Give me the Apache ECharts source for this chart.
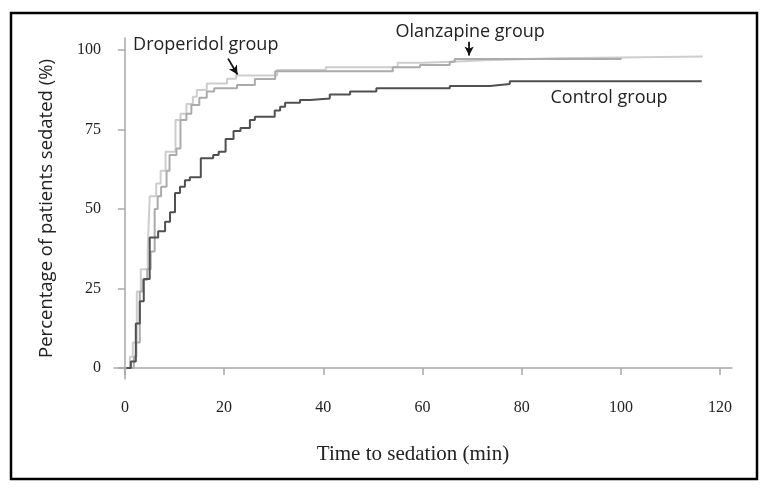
<!DOCTYPE html>
<html>
<head>
<meta charset="utf-8">
<script src="https://cdn.jsdelivr.net/npm/echarts@6/dist/echarts.min.js"></script>
<style>html,body{margin:0;padding:0;background:#fff;}#c{width:768px;height:488px;}</style>
</head>
<body>
<div id="c"></div>
<script>
// Time (min), cumulative percentage sedated (step curves)
var controlData = [[0.3,0],[1.2,2],[2.2,14],[3.0,21],[3.8,28],[5.0,41],[6.7,43],[8.1,46],[9.1,49],[10.1,55],[11.1,57],[12.1,59],[13.1,60],[15.3,66],[17.8,67],[18.9,68],[20.3,72],[21.9,74.5],[23.3,75.5],[25.2,78],[26.2,79],[30.2,81],[31.3,82.2],[32.3,83.4],[35.3,84.3],[37.3,84.8],[41.3,86],[45.4,87],[50.7,88],[65.5,88.7],[73.6,89.3],[77.6,90.2],[116.3,90.2]];
var droperidolData = [[0.3,0],[1.0,3.5],[1.6,8],[2.4,24],[3.2,31],[4.6,37],[5.0,54],[6.3,58],[7.2,62],[8.2,68],[10.2,78],[11.2,80],[12.4,83],[13.7,85.3],[14.5,87.4],[16.5,89.5],[20.6,91],[22.4,92],[30.7,93.7],[40.5,94.6],[55,96],[60,96.3],[66,96.8],[72.5,97.4],[87,98],[116.5,98]];
var olanzapineData = [[0.3,0],[1.8,3.5],[2.3,8],[3.0,24],[3.6,27.7],[4.5,31],[5.2,36.6],[6.0,50],[6.6,54],[7.3,57],[8.4,62],[9.0,67],[10.4,69],[11.2,78],[12.4,80],[13.4,82.7],[15.0,85],[16.5,87],[18.0,88],[22.6,89],[26.2,90.9],[30.3,93.3],[54,94.6],[59.5,95.3],[65.5,96.3],[66.5,97.2],[100,97.5]];
var xTicks = [0,20,40,60,80,100,120];
var yTicks = [0,25,50,75,100];
var groupNames = ['Control group','Droperidol group','Olanzapine group'];
// annotation anchors in data units: [label centre], [arrow start], [arrow end]
var labelAt = {control: [97.6, 84.9], droperidol: [16.3, 101.6], olanzapine: [69.6, 105.8]};

var chart = echarts.init(document.getElementById('c'));
var serif = 'Liberation Serif';
var sans = 'Open Sans';
var axisGray = '#a8a8a8';

function arrow(from, to) {
  return {
    silent: true,
    symbol: ['none', 'arrow'],
    symbolSize: [7, 9],
    label: {show: false},
    lineStyle: {color: '#111', width: 1.8, type: 'solid'},
    data: [[{coord: from}, {coord: to}]]
  };
}

chart.setOption({
  animation: false,
  backgroundColor: '#fff',
  grid: {left: 114, right: 36, top: 38, bottom: 109, containLabel: false},
  xAxis: {
    type: 'value', min: -2.2, max: 122.4,
    name: 'Time to sedation (min)', nameLocation: 'middle', nameGap: 65,
    nameTextStyle: {fontFamily: serif, fontSize: 21, color: '#222', padding: [0, 20, 0, 0]},
    axisLine: {show: true, lineStyle: {color: axisGray, width: 1.5}},
    axisTick: {show: true, length: 7, lineStyle: {color: axisGray, width: 1.5}, customValues: xTicks},
    axisLabel: {fontFamily: serif, fontSize: 16, color: '#222', margin: 21, customValues: xTicks},
    splitLine: {show: false}
  },
  yAxis: {
    type: 'value', min: -3.5, max: 103.8,
    name: 'Percentage of patients sedated (%)', nameLocation: 'middle', nameGap: 58, nameRotate: 90,
    nameTextStyle: {fontFamily: sans, fontSize: 18.5, color: '#222'},
    axisLine: {show: true, lineStyle: {color: axisGray, width: 1.5}},
    axisTick: {show: true, length: 7, lineStyle: {color: axisGray, width: 1.5}, customValues: yTicks},
    axisLabel: {fontFamily: serif, fontSize: 16, color: '#222', margin: 13, customValues: yTicks},
    splitLine: {show: false}
  },
  series: [
    {
      name: groupNames[1], type: 'line', step: 'end', data: droperidolData, showSymbol: false, clip: false,
      lineStyle: {color: '#cdcdcd', width: 2}, z: 2,
      markLine: arrow([20.8, 97.3], [22.7, 92.3])
    },
    {
      name: groupNames[2], type: 'line', step: 'end', data: olanzapineData, showSymbol: false, clip: false,
      lineStyle: {color: '#ababab', width: 2}, z: 3,
      markLine: arrow([69.4, 102.6], [69.4, 98.3])
    },
    {
      name: groupNames[0], type: 'line', step: 'end', data: controlData, showSymbol: false, clip: false,
      lineStyle: {color: '#505050', width: 2}, z: 4
    }
  ]
});

function txt(name, coord) {
  var p = chart.convertToPixel({gridIndex: 0}, coord);
  return {
    type: 'text', x: p[0], y: p[1], silent: true, z: 50,
    style: {text: name, fill: '#222', font: '18px "Open Sans"', textAlign: 'center', textVerticalAlign: 'middle'}
  };
}
chart.setOption({
  graphic: [
    {type: 'rect', shape: {x: 11, y: 13, width: 746, height: 466},
     style: {fill: 'none', stroke: '#000', lineWidth: 2.5}, silent: true, z: 100},
    txt(groupNames[1], labelAt.droperidol),
    txt(groupNames[2], labelAt.olanzapine),
    txt(groupNames[0], labelAt.control)
  ]
});
</script>
</body>
</html>
